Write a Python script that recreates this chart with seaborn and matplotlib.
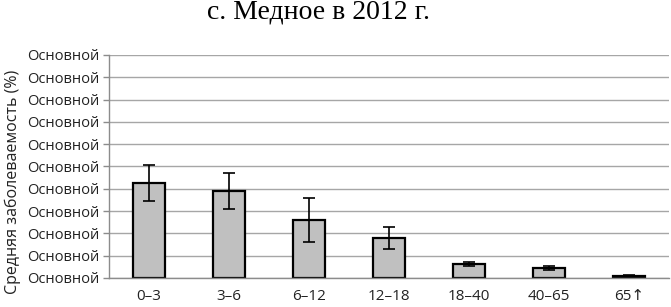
import matplotlib
matplotlib.use("Agg")
import matplotlib.pyplot as plt
import seaborn as sns
import pandas as pd
import numpy as np

categories = ["0–3", "3–6", "6–12", "12–18", "18–40", "40–65", "65↑"]
values = [4.26, 3.9, 2.6, 1.8, 0.63, 0.45, 0.1]
errors = [0.8, 0.8, 1.0, 0.5, 0.08, 0.1, 0.03]
ytick_labels = ["Основной"] * 11
title = "с. Медное в 2012 г."
ylabel = "Средняя заболеваемость (%)"

sns.set_theme(style="white")
plt.rcParams['font.family'] = ['Open Sans', 'DejaVu Sans']

df = pd.DataFrame({"cat": categories, "val": values})

fig = plt.figure(figsize=(6.71, 3.07), dpi=100)
ax = fig.add_axes([0.1624, 0.0945, 0.835, 0.7265])
sns.barplot(data=df, x="cat", y="val", ax=ax, color="#c0c0c0", width=0.4,
            edgecolor="black", linewidth=1.6, saturation=1, errorbar=None)
ax.errorbar(x=np.arange(len(categories)), y=values, yerr=errors, fmt="none",
            ecolor="black", elinewidth=1.2, capsize=4, capthick=1.2, zorder=5)

ax.set_ylim(0, 10)
ax.set_xlim(-0.5, len(categories) - 0.5)
ax.set_yticks(range(11))
ax.set_yticklabels(ytick_labels, fontsize=10.5, color="#222222")
ax.yaxis.grid(True, color="#a6a6a6", linewidth=1)
ax.set_axisbelow(True)
ax.tick_params(axis="y", length=4, width=1, color="#8c8c8c", left=True, pad=3)
ax.tick_params(axis="x", length=0, pad=8, labelsize=11, labelcolor="#222222")
for s in ["top", "right"]:
    ax.spines[s].set_visible(False)
for s in ["left", "bottom"]:
    ax.spines[s].set_color("#8c8c8c")
    ax.spines[s].set_linewidth(1)
ax.set_xlabel("")
ax.set_ylabel(ylabel, fontsize=11.5, color="#222222", labelpad=2)
ax.yaxis.set_label_coords(-0.157, 0.43)
fig.text(0.475, 0.96, title, ha="center", va="center",
         family="Liberation Serif", fontsize=20, color="black")

fig.savefig("out.png", dpi=100)
